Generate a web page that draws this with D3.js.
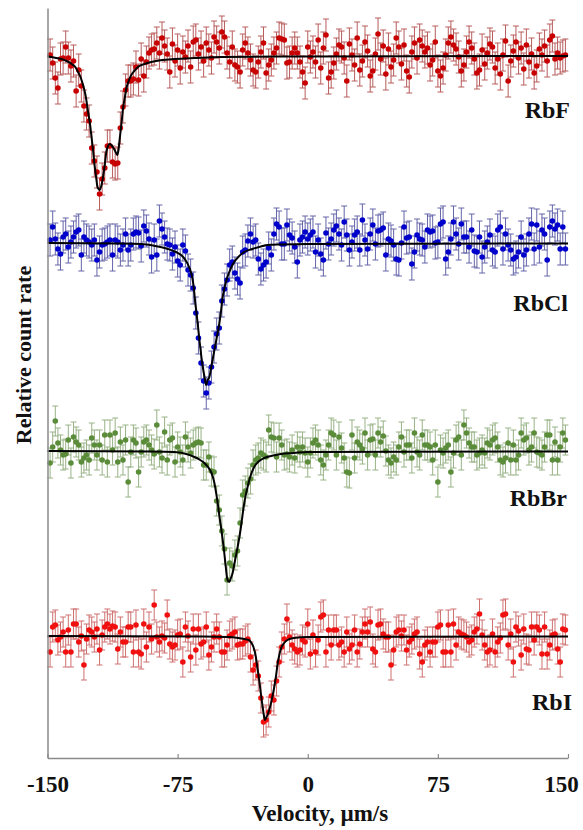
<!DOCTYPE html>
<html><head><meta charset="utf-8">
<script src="https://cdn.jsdelivr.net/npm/d3@7"></script>
<style>html,body{margin:0;padding:0;background:#fff;} svg{display:block;}</style>
</head><body>
<svg id="chart" width="583" height="830"></svg>
<script>
// ---------------- DATA ----------------
const velocity = [
-148.5,-147,-145.5,-144,-142.5,-141,-139.5,-138,-136.5,-135,
-133.5,-132,-130.5,-129,-127.5,-126,-124.5,-123,-121.5,-120,
-118.5,-117,-115.5,-114,-112.5,-111,-109.5,-108,-106.5,-105,
-103.5,-102,-100.5,-99,-97.5,-96,-94.5,-93,-91.5,-90,
-88.5,-87,-85.5,-84,-82.5,-81,-79.5,-78,-76.5,-75,
-73.5,-72,-70.5,-69,-67.5,-66,-64.5,-63,-61.5,-60,
-58.5,-57,-55.5,-54,-52.5,-51,-49.5,-48,-46.5,-45,
-43.5,-42,-40.5,-39,-37.5,-36,-34.5,-33,-31.5,-30,
-28.5,-27,-25.5,-24,-22.5,-21,-19.5,-18,-16.5,-15,
-13.5,-12,-10.5,-9,-7.5,-6,-4.5,-3,-1.5,0,
1.5,3,4.5,6,7.5,9,10.5,12,13.5,15,
16.5,18,19.5,21,22.5,24,25.5,27,28.5,30,
31.5,33,34.5,36,37.5,39,40.5,42,43.5,45,
46.5,48,49.5,51,52.5,54,55.5,57,58.5,60,
61.5,63,64.5,66,67.5,69,70.5,72,73.5,75,
76.5,78,79.5,81,82.5,84,85.5,87,88.5,90,
91.5,93,94.5,96,97.5,99,100.5,102,103.5,105,
106.5,108,109.5,111,112.5,114,115.5,117,118.5,120,
121.5,123,124.5,126,127.5,129,130.5,132,133.5,135,
136.5,138,139.5,141,142.5,144,145.5,147,148.5];

const rateRbF = [
1.001,0.993,0.978,0.968,0.997,0.998,1.009,0.998,0.990,0.995,
0.965,0.986,0.970,0.950,0.942,0.935,0.908,0.895,0.884,0.862,
0.877,0.888,0.910,0.910,0.894,0.892,0.893,0.928,0.949,0.966,
0.975,0.975,0.977,0.989,0.976,0.997,0.980,0.994,1.003,1.006,
1.007,1.013,1.003,1.018,1.010,1.002,0.984,1.012,0.995,1.006,
0.988,1.004,0.999,1.010,0.989,1.014,1.016,1.002,1.009,0.995,
1.013,1.006,0.998,1.019,1.014,1.008,1.024,1.019,1.003,0.994,
1.009,0.991,0.989,0.984,1.006,1.013,1.003,0.996,0.986,0.984,
0.994,1.004,1.013,0.983,0.991,0.996,1.003,1.008,1.018,1.017,
1.016,0.993,0.994,1.003,1.008,1.003,0.994,0.984,0.973,1.009,
0.999,1.004,0.994,1.016,0.988,1.008,1.021,0.978,0.984,0.993,
1.002,1.011,1.009,0.998,0.975,1.012,1.001,0.991,1.018,0.986,
0.995,1.014,1.005,0.980,0.985,1.002,1.022,0.997,1.010,0.982,
1.007,0.989,0.996,1.018,1.009,0.992,1.011,0.985,0.979,1.004,
1.013,0.998,1.016,1.010,1.004,1.008,0.991,0.996,1.014,0.985,
0.980,0.988,1.001,1.013,1.019,1.011,1.007,0.999,0.985,0.991,
1.004,1.014,1.008,0.997,0.983,0.986,1.006,0.992,1.003,1.012,
1.009,0.988,0.997,0.982,1.001,1.015,0.975,0.995,1.005,1.014,
0.998,1.008,0.987,1.011,0.994,1.002,0.983,0.990,1.007,1.001,
1.010,0.995,1.016,1.020,0.997,1.003,0.998,1.000,1.001];

const rateRbCl = [
1.003,1.016,1.004,0.994,0.989,1.006,1.009,0.996,1.001,1.006,
1.011,1.013,0.988,1.006,1.003,1.001,0.998,1.003,0.983,0.991,
0.998,0.999,1.001,1.003,0.988,1.003,1.001,0.993,0.998,1.009,
0.993,0.998,1.009,1.011,1.010,0.997,1.017,1.012,1.004,0.986,
1.003,0.988,1.022,1.014,1.006,0.999,0.998,0.989,0.996,0.982,
0.978,0.998,0.992,0.973,0.968,0.955,0.930,0.905,0.880,0.862,
0.850,0.860,0.876,0.896,0.909,0.915,0.942,0.954,0.963,0.978,
0.981,0.970,0.964,0.960,0.991,0.993,1.002,1.009,1.001,1.003,
0.984,0.974,0.978,0.981,0.995,0.988,1.009,1.019,1.016,0.999,
0.999,1.018,1.008,1.005,0.996,0.981,1.003,1.006,1.011,1.004,
1.008,1.011,0.991,1.003,0.989,0.983,1.010,0.999,1.004,1.013,
1.017,1.009,0.998,1.021,1.008,0.993,1.001,1.008,1.011,0.993,
1.023,1.003,0.994,1.009,1.018,0.999,1.012,1.013,1.015,0.988,
1.004,1.002,0.998,0.984,0.983,1.000,1.016,1.005,1.006,0.979,
0.991,1.008,1.004,1.003,0.996,1.013,1.011,1.012,1.000,1.001,
1.019,1.021,0.984,0.991,1.004,1.021,1.009,0.999,1.019,1.006,
1.006,0.996,1.013,0.992,0.991,1.006,0.986,0.996,1.001,1.008,
0.993,0.991,1.013,1.016,0.994,1.009,0.998,0.993,0.984,0.986,
0.991,1.006,0.988,0.993,1.009,1.019,0.994,1.018,0.996,1.013,
1.009,0.983,1.016,1.022,1.014,1.018,0.994,1.016,0.994];

const rateRbBr = [
0.988,1.004,1.030,1.008,1.001,0.996,0.997,1.011,0.988,1.014,
1.009,1.006,0.989,0.993,0.996,0.991,1.013,1.006,0.996,1.006,
0.991,1.016,0.989,1.016,1.001,1.018,0.989,1.009,0.991,1.011,
0.969,0.999,1.011,1.008,0.979,0.999,1.009,1.011,1.006,1.001,
0.997,1.026,0.999,0.993,1.019,0.991,1.011,1.013,0.989,1.004,
0.999,0.991,1.014,1.004,0.998,1.006,1.008,1.009,1.008,0.986,
0.986,0.994,0.980,0.979,0.950,0.941,0.920,0.902,0.871,0.888,
0.885,0.896,0.900,0.928,0.956,0.960,0.968,0.972,0.986,0.991,
0.993,0.998,0.996,0.994,1.021,1.014,1.013,0.994,1.013,1.006,
0.996,0.997,0.994,1.001,0.993,1.004,0.999,1.004,0.998,0.989,
0.998,1.008,1.011,1.006,0.991,0.986,0.996,1.006,1.018,1.016,
0.996,1.014,1.003,0.993,0.979,0.978,1.016,0.993,1.009,1.006,
1.002,1.018,0.996,1.011,1.012,0.996,1.018,1.009,1.015,1.000,
0.991,0.988,0.994,0.991,1.004,1.014,0.999,1.006,1.006,0.993,
1.018,0.999,0.996,1.016,1.006,1.006,1.004,0.991,1.006,0.969,
1.001,0.998,1.003,1.006,0.979,0.998,1.011,1.014,0.996,1.026,
1.018,1.008,1.004,1.004,0.996,0.998,1.001,0.998,1.008,1.006,
1.011,1.013,1.004,0.991,0.989,0.993,1.008,0.991,1.006,0.991,
0.996,1.018,1.011,1.013,1.001,1.004,1.018,0.999,0.998,0.996,
1.004,1.016,1.016,0.991,1.009,0.991,1.004,1.018,1.011];

const rateRbI = [
0.984,1.009,1.011,0.996,0.999,1.004,0.984,1.006,0.984,1.012,
1.012,0.994,1.000,0.971,0.997,1.006,1.004,0.999,1.007,0.986,
1.001,1.009,1.012,1.007,1.010,1.009,0.987,1.004,0.994,0.994,
1.009,1.009,0.984,1.011,0.984,0.982,1.012,0.989,1.009,0.997,
1.031,0.999,0.994,1.000,0.998,1.021,0.992,0.989,0.991,1.001,
1.002,0.974,1.009,1.000,0.979,1.007,0.986,1.007,0.992,0.994,
1.009,0.981,0.989,0.999,1.007,0.999,0.984,0.984,0.991,1.000,
1.002,1.004,0.991,0.992,0.992,0.995,0.997,0.979,0.966,0.971,
0.960,0.938,0.914,0.916,0.924,0.940,0.936,0.955,0.974,0.989,
0.997,1.017,0.999,0.991,0.987,0.984,0.986,0.996,0.994,1.012,
0.982,1.001,0.984,0.996,1.019,1.021,0.984,1.006,0.991,1.006,
1.006,0.991,0.994,0.984,1.004,0.987,0.991,1.006,0.984,0.992,
1.004,1.012,1.004,1.014,0.987,0.984,1.011,1.012,1.002,0.999,
0.999,0.971,0.986,1.004,1.006,1.000,1.006,0.986,0.994,0.997,
1.002,1.004,0.982,0.974,0.991,0.994,0.984,0.994,0.994,1.009,
1.011,0.984,0.984,1.011,0.984,1.012,0.991,1.004,1.002,1.001,
0.999,0.994,0.996,1.004,1.007,1.022,1.001,0.991,0.984,0.986,
1.002,0.984,0.994,0.998,1.021,1.022,0.991,1.002,0.974,1.009,
1.005,0.981,1.007,0.987,0.986,1.009,0.996,1.009,1.006,0.982,
1.009,0.982,0.991,1.001,1.002,0.987,0.974,1.007,1.006];

// error bar half-widths (relative count rate)
const errorRbF = 0.016, errorRbCl = 0.016, errorRbBr = 0.015, errorRbI = 0.015;

// fitted curves
const fitVelocityRbF = [-150,-145,-142,-139,-136,-134,-132.4,-131,-129.5,-128,-126.6,-125.5,-124.7,-123.7,-122.8,-122,-121.3,-120.6,-120,-119,-118,-117,-116.1,-115.1,-114.2,-113.2,-112.3,-111,-109.8,-109,-108.4,-107.4,-106.5,-105.5,-104.6,-103,-101.7,-100,-97.9,-94,-90.2,-84,-76.8,-65,-50,0,150];
const fitRateRbF = [0.9995,0.998,0.997,0.995,0.992,0.989,0.984,0.979,0.971,0.960,0.944,0.932,0.920,0.905,0.890,0.879,0.870,0.867,0.866,0.870,0.879,0.891,0.904,0.910,0.912,0.911,0.909,0.905,0.901,0.907,0.917,0.932,0.947,0.958,0.967,0.976,0.981,0.985,0.989,0.992,0.994,0.996,0.997,0.998,0.999,0.9995,1.000];

const fitVelocityRbCl = [-150,-110,-96,-88,-80.6,-76,-73,-70.5,-68.4,-67.2,-66.3,-65.6,-65,-64.2,-63.4,-62.5,-61.5,-60.5,-59.5,-58.6,-57.7,-56.7,-55.3,-53.8,-52.4,-51,-50,-49.1,-48,-46.3,-44.5,-42.4,-39.5,-36.6,-32,-27,-23.2,-15,0,150];
const fitRateRbCl = [1.000,0.9995,0.999,0.997,0.994,0.991,0.988,0.983,0.976,0.970,0.963,0.954,0.943,0.931,0.919,0.904,0.889,0.876,0.866,0.858,0.863,0.866,0.879,0.893,0.906,0.919,0.932,0.945,0.955,0.966,0.974,0.981,0.987,0.991,0.994,0.9965,0.998,0.9985,0.999,0.9995];

const fitVelocityRbBr = [-150,-90,-76.8,-70,-65.3,-62,-59.6,-57.5,-55.7,-54.7,-53.8,-52.9,-51.9,-51,-50,-49,-48.1,-47.3,-46.6,-45.9,-45.2,-44.3,-43.3,-42.3,-41.3,-40.4,-39.4,-38.5,-37.5,-36.6,-35.6,-34.7,-33,-30.9,-28,-25.1,-20,-15.5,-8,0,150];
const fitRateRbBr = [1.000,0.9995,0.999,0.997,0.994,0.991,0.988,0.984,0.979,0.974,0.968,0.959,0.948,0.936,0.924,0.911,0.898,0.885,0.874,0.870,0.869,0.873,0.878,0.887,0.896,0.904,0.914,0.924,0.937,0.948,0.957,0.964,0.975,0.984,0.990,0.993,0.9955,0.997,0.998,0.999,0.9995];

const fitVelocityRbI = [-150,-60,-46.1,-40,-36.6,-34,-32.8,-31.3,-29.9,-29,-28,-27,-26,-25.3,-24.7,-24,-23.2,-22.2,-21.3,-20.3,-19.3,-18.3,-17.4,-16.4,-15.5,-13.6,-11.7,-8,0,150];
const fitRateRbI = [1.000,0.9995,0.999,0.998,0.997,0.996,0.994,0.989,0.979,0.968,0.956,0.942,0.929,0.921,0.916,0.918,0.921,0.926,0.932,0.940,0.949,0.960,0.972,0.981,0.987,0.993,0.996,0.998,0.999,0.9995];

const seriesNames = ["RbF", "RbCl", "RbBr", "RbI"];
const xTicks = [-150, -75, 0, 75, 150];
const xTitle = "Velocity, \u00b5m/s";
const yTitle = "Relative count rate";

// ---------------- LAYOUT / STYLE ----------------
const serif = "'Liberation Serif','Times New Roman',Times,serif";
const svg = d3.select("#chart");
const x = d3.scaleLinear().domain([-150, 150]).range([47.5, 568]);
const y = d3.scaleLinear().domain([0.878, 1.628]).range([758, 8]);

const series = [
  {name: seriesNames[0], rate: rateRbF, err: errorRbF, fitV: fitVelocityRbF, fitR: fitRateRbF,
   shift: 0.580, dot: "#c80000", bar: "#b85c5c", label: [570, 118]},
  {name: seriesNames[1], rate: rateRbCl, err: errorRbCl, fitV: fitVelocityRbCl, fitR: fitRateRbCl,
   shift: 0.393, dot: "#0000cc", bar: "#6464aa", label: [568, 311]},
  {name: seriesNames[2], rate: rateRbBr, err: errorRbBr, fitV: fitVelocityRbBr, fitR: fitRateRbBr,
   shift: 0.185, dot: "#5a8c3a", bar: "#98b286", label: [567, 506]},
  {name: seriesNames[3], rate: rateRbI, err: errorRbI, fitV: fitVelocityRbI, fitR: fitRateRbI,
   shift: 0.0, dot: "#f01010", bar: "#cf7070", label: [572, 710]}
];

const line = d3.line().curve(d3.curveMonotoneX);

series.forEach(s => {
  const g = svg.append("g").attr("class", "series-" + s.name);
  const pts = velocity.map((v, i) => ({v, r: s.rate[i]}));
  const bars = g.append("g").attr("stroke", s.bar).attr("stroke-width", 1).attr("fill", "none");
  pts.forEach(p => {
    const cx = x(p.v), y1 = y(p.r + s.shift + s.err), y2 = y(p.r + s.shift - s.err);
    bars.append("line").attr("x1", cx).attr("x2", cx).attr("y1", y1).attr("y2", y2);
    bars.append("line").attr("x1", cx - 3).attr("x2", cx + 3).attr("y1", y1).attr("y2", y1);
    bars.append("line").attr("x1", cx - 3).attr("x2", cx + 3).attr("y1", y2).attr("y2", y2);
  });
  g.append("g").selectAll("circle").data(pts).join("circle")
    .attr("cx", d => x(d.v)).attr("cy", d => y(d.r + s.shift))
    .attr("r", 2.8).attr("fill", s.dot);
  const fit = s.fitV.map((v, i) => [x(v), y(s.fitR[i] + s.shift)]);
  g.append("path").attr("d", line(fit)).attr("fill", "none")
    .attr("stroke", "#000").attr("stroke-width", 2);
  svg.append("text").attr("x", s.label[0]).attr("y", s.label[1])
    .attr("text-anchor", "end").attr("font-family", serif).attr("font-weight", "bold")
    .attr("font-size", 24).attr("fill", "#111").text(s.name);
});

// axes
const xAxis = d3.axisBottom(x).tickValues(xTicks).tickSize(-4).tickSizeOuter(0)
  .tickPadding(18).tickFormat(d => String(d));
const gx = svg.append("g").attr("transform", "translate(0,758)").call(xAxis);
gx.select(".domain").attr("stroke", "#8a8a8a").attr("stroke-width", 1.5);
gx.selectAll(".tick line").attr("stroke", "#8a8a8a").attr("stroke-width", 1.2);
gx.selectAll(".tick text").attr("font-family", serif).attr("font-weight", "bold")
  .attr("font-size", 23).attr("fill", "#111")
  .attr("dx", d => d === 150 ? -7 : 0);

const yAxis = d3.axisLeft(y).tickValues([]).tickSizeOuter(0);
const gy = svg.append("g").attr("transform", "translate(47.5,0)").call(yAxis);
gy.select(".domain").attr("stroke", "#8a8a8a").attr("stroke-width", 1.5);

svg.append("text").attr("x", 320).attr("y", 821).attr("text-anchor", "middle")
  .attr("font-family", serif).attr("font-weight", "bold").attr("font-size", 23)
  .attr("fill", "#111").text(xTitle);
svg.append("text").attr("transform", "translate(31,355) rotate(-90)")
  .attr("text-anchor", "middle").attr("font-family", serif).attr("font-weight", "bold")
  .attr("font-size", 22).attr("fill", "#111").text(yTitle);
</script>
</body></html>
